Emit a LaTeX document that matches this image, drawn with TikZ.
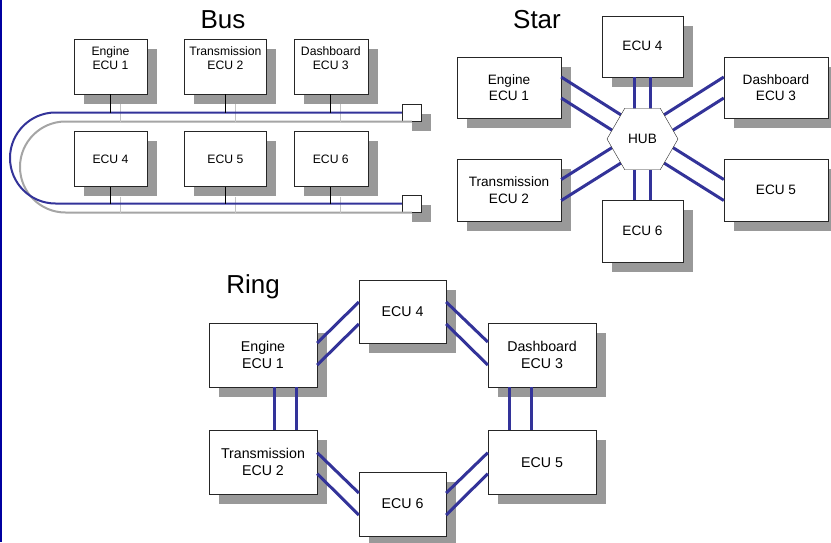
\documentclass[tikz,border=0pt]{standalone}
\usepackage{fontspec}
\setmainfont{Liberation Sans}
\usetikzlibrary{positioning, shapes.geometric, shadows}
\definecolor{linkblue}{RGB}{51,51,153}
\definecolor{edgeblue}{RGB}{0,0,160}
\definecolor{busgray}{RGB}{165,165,165}
\definecolor{dropgray}{RGB}{195,195,195}
\begin{document}
\begin{tikzpicture}[x=1pt, y=-1pt, node distance=37pt,
  ecu/.style={draw=black!85, fill=white, rectangle, inner sep=0pt, align=center,
    drop shadow={shadow xshift=10pt, shadow yshift=-10pt, fill=black!40, opacity=1}},
  busecu/.style={ecu, minimum height=55pt, font=\fontsize{12.2}{14}\selectfont},
  starecu/.style={ecu, minimum height=61pt, font=\fontsize{13.6}{16.5}\selectfont},
  ringecu/.style={ecu, minimum height=63.5pt, font=\fontsize{14.2}{16.7}\selectfont},
  title/.style={anchor=base, font=\fontsize{26}{30}\selectfont},
  link/.style={draw=linkblue, line width=3pt},
  busline/.style={draw=linkblue, line width=2pt, rounded corners=45.5pt},
  tap/.style={draw=black, line width=0.8pt}]
  \useasboundingbox (0,0) rectangle (831,542);
  \draw[edgeblue, line width=2pt] (1,0) -- (1,542);

  % Bus
  \node[title] (bustitle) at (223,28.3) {Bus};
  \node[busecu, minimum width=73pt, text depth=17pt] (b1) at (110.5,66.5) {Engine\\ECU 1};
  \node[busecu, minimum width=82pt, text depth=17pt, right=of b1] (b2) {Transmission\\ECU 2};
  \node[busecu, minimum width=74pt, text depth=17pt, right=27pt of b2] (b3) {Dashboard\\ECU 3};
  \node[busecu, minimum width=73pt, below=of b1] (b4) {ECU 4};
  \node[busecu, minimum width=82pt, below=of b2] (b5) {ECU 5};
  \node[busecu, minimum width=74pt, below=of b3] (b6) {ECU 6};
  \node[ecu, minimum width=19pt, minimum height=17pt] (t1) at (411.5,112.5) {};
  \node[ecu, minimum width=19pt, minimum height=17pt] (t2) at (411.5,203.5) {};
  \coordinate (busleft) at (10,158);
  \begin{scope}[transform canvas={shift={(10,9)}}]
    \draw[busline, draw=busgray] (t1.west) -- (t1.west -| busleft) -- (t2.west -| busleft) -- (t2.west);
    \foreach \b in {b1,b2,b3}
      \draw[dropgray, line width=0.8pt] ([yshift=-1pt]\b.south) -- (\b.south |- t1.west);
    \foreach \b in {b4,b5,b6}
      \draw[dropgray, line width=0.8pt] ([yshift=-1pt]\b.south) -- (\b.south |- t2.west);
  \end{scope}
  \draw[busline] (t1.west) -- (t1.west -| busleft) -- (t2.west -| busleft) -- (t2.west);
  \foreach \b in {b1,b2,b3}
    \draw[tap] (\b.south) -- (\b.south |- t1.west);
  \foreach \b in {b4,b5,b6}
    \draw[tap] (\b.south) -- (\b.south |- t2.west);

  % Star
  \node[title] (startitle) at (537,28.3) {Star};
  \coordinate (hubc) at (642.5,139);
  \node[starecu, minimum width=104pt] (s1) at (509,87.5) {Engine\\ECU 1};
  \node[starecu, minimum width=104pt, minimum height=62pt] (s2) at (509,190) {Transmission\\ECU 2};
  \node[starecu, minimum width=104pt] (s3) at (776,87.5) {Dashboard\\ECU 3};
  \node[starecu, minimum width=81pt, above=62pt of hubc] (s4) {ECU 4};
  \node[starecu, minimum width=104pt, minimum height=62pt] (s5) at (776,190) {ECU 5};
  \node[starecu, minimum width=81pt, minimum height=62pt, below=61pt of hubc] (s6) {ECU 6};
  \draw[link] ([shift={(0,-10.5)}]s1.east) -- ([shift={(0,-10.5)}]hubc);
  \draw[link] ([shift={(0,10.5)}]s1.east) -- ([shift={(0,10.5)}]hubc);
  \draw[link] ([shift={(0,-10.5)}]s2.east) -- ([shift={(0,-10.5)}]hubc);
  \draw[link] ([shift={(0,10.5)}]s2.east) -- ([shift={(0,10.5)}]hubc);
  \draw[link] ([shift={(0,-10.5)}]s3.west) -- ([shift={(0,-10.5)}]hubc);
  \draw[link] ([shift={(0,10.5)}]s3.west) -- ([shift={(0,10.5)}]hubc);
  \draw[link] ([shift={(0,-10.5)}]s5.west) -- ([shift={(0,-10.5)}]hubc);
  \draw[link] ([shift={(0,10.5)}]s5.west) -- ([shift={(0,10.5)}]hubc);
  \draw[link] ([shift={(-8,0)}]s4.south) -- ([shift={(-8,0)}]hubc);
  \draw[link] ([shift={(8,0)}]s4.south) -- ([shift={(8,0)}]hubc);
  \draw[link] ([shift={(-8,0)}]s6.north) -- ([shift={(-8,0)}]hubc);
  \draw[link] ([shift={(8,0)}]s6.north) -- ([shift={(8,0)}]hubc);
  \node[draw=black!85, fill=white, regular polygon, regular polygon sides=6, minimum size=71pt,
    inner sep=0pt, font=\fontsize{13.6}{16.5}\selectfont] (hub) at (hubc) {HUB};

  % Ring
  \node[title] (ringtitle) at (253,293.3) {Ring};
  \node[ringecu, minimum width=108pt, minimum height=64pt] (r1) at (263,355) {Engine\\ECU 1};
  \node[ringecu, minimum width=108pt, below=43pt of r1] (r2) {Transmission\\ECU 2};
  \node[ringecu, minimum width=108pt, minimum height=64pt] (r3) at (542,355) {Dashboard\\ECU 3};
  \node[ringecu, minimum width=87pt] (r4) at (402.5,311.5) {ECU 4};
  \node[ringecu, minimum width=108pt, below=43pt of r3] (r5) {ECU 5};
  \node[ringecu, minimum width=87pt, minimum height=64pt] (r6) at (402.5,504) {ECU 6};
  \draw[link] ([shift={(0,-12)}]r1.east) -- ([shift={(0,-9.5)}]r4.west);
  \draw[link] ([shift={(0,10)}]r1.east) -- ([shift={(0,12.5)}]r4.west);
  \draw[link] ([shift={(0,-9.5)}]r4.east) -- ([shift={(0,-13)}]r3.west);
  \draw[link] ([shift={(0,12.5)}]r4.east) -- ([shift={(0,10)}]r3.west);
  \draw[link] ([shift={(11,0)}]r1.south) -- ([shift={(11,0)}]r2.north);
  \draw[link] ([shift={(33,0)}]r1.south) -- ([shift={(33,0)}]r2.north);
  \draw[link] ([shift={(-33,0)}]r3.south) -- ([shift={(-33,0)}]r5.north);
  \draw[link] ([shift={(-11,0)}]r3.south) -- ([shift={(-11,0)}]r5.north);
  \draw[link] ([shift={(0,-9.5)}]r2.east) -- ([shift={(0,-11)}]r6.west);
  \draw[link] ([shift={(0,11.5)}]r2.east) -- ([shift={(0,11)}]r6.west);
  \draw[link] ([shift={(0,-11)}]r6.east) -- ([shift={(0,-9.5)}]r5.west);
  \draw[link] ([shift={(0,11)}]r6.east) -- ([shift={(0,11.5)}]r5.west);
\end{tikzpicture}
\end{document}
